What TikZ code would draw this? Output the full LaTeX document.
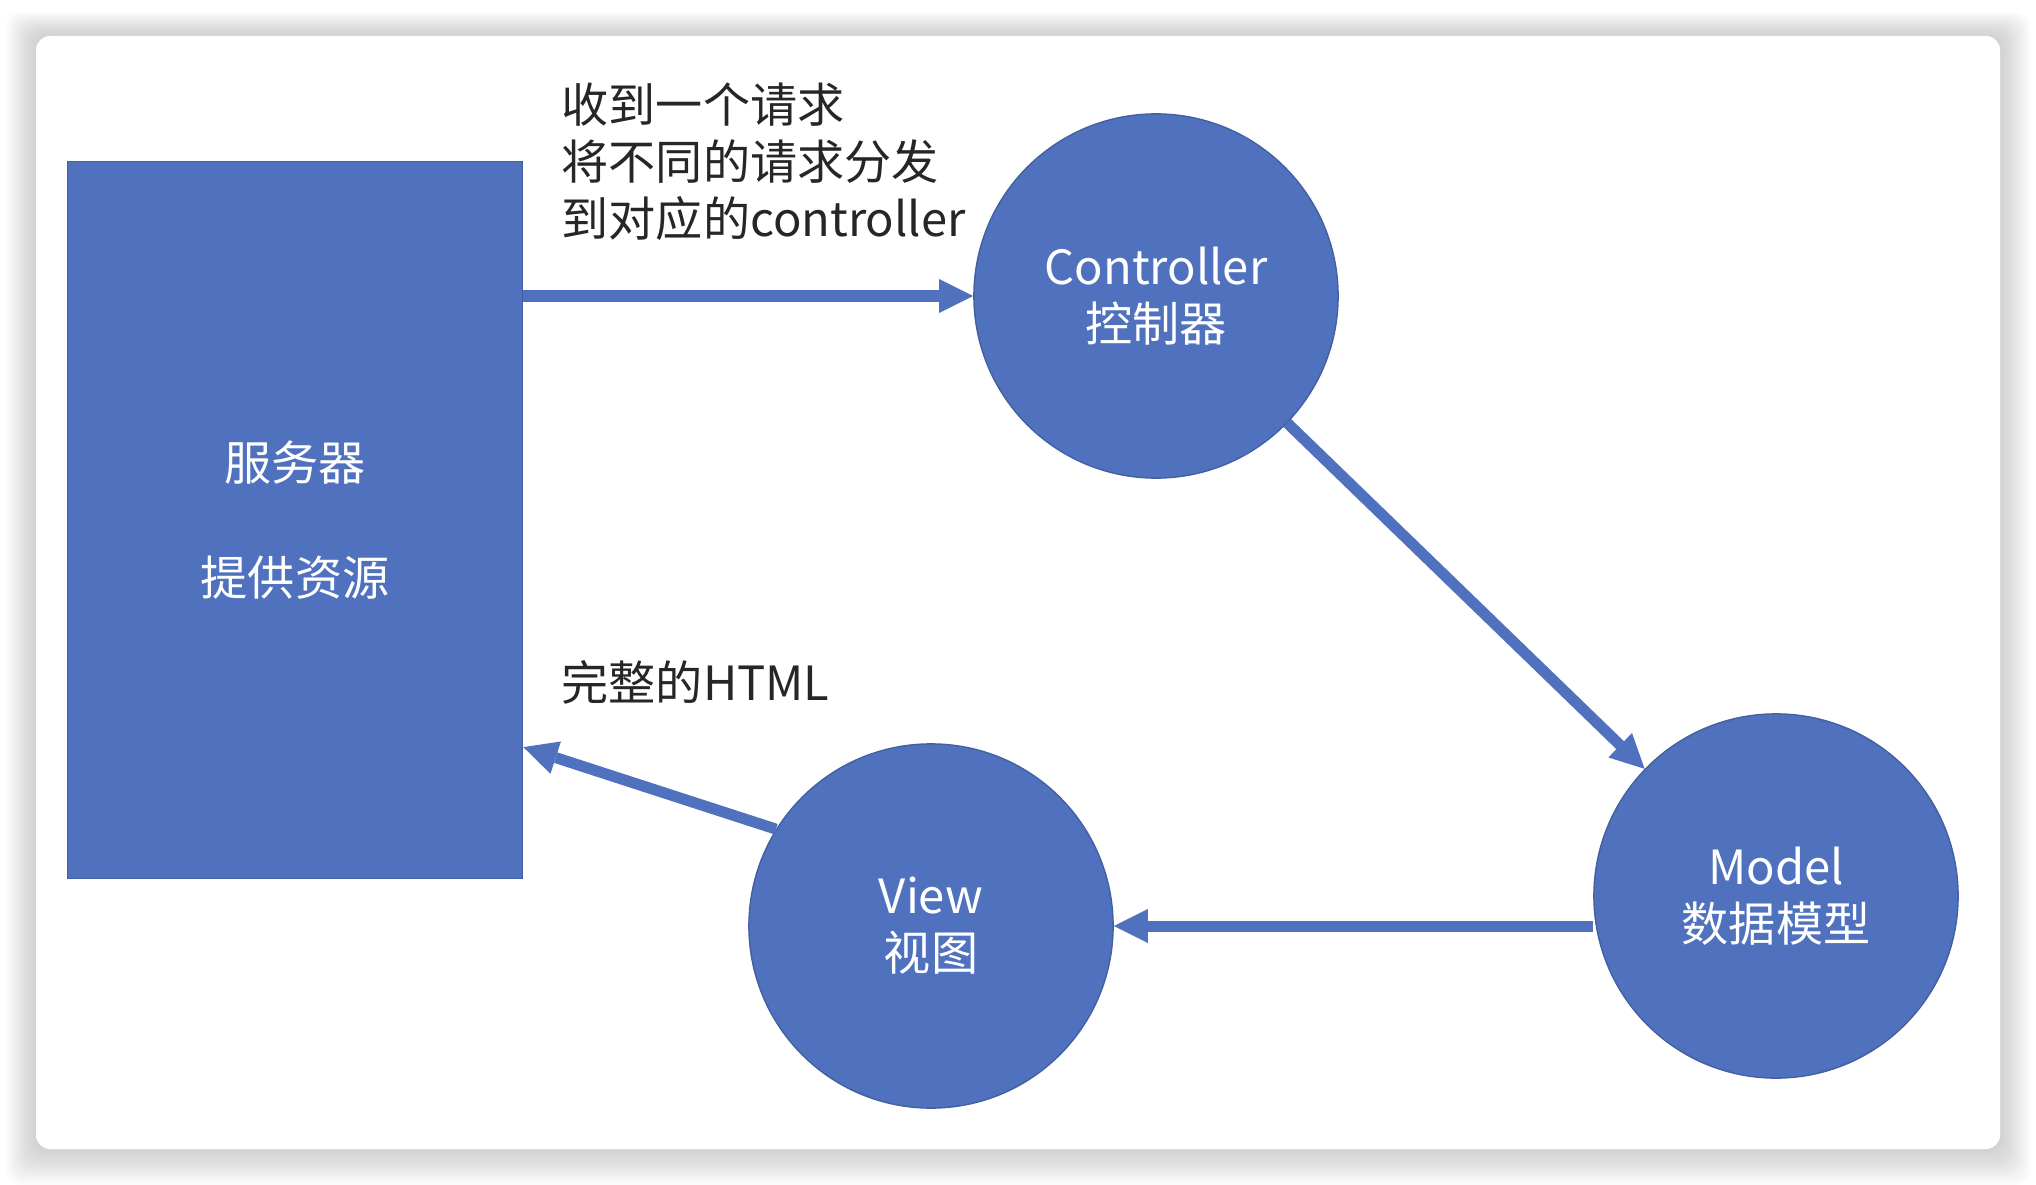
\documentclass[tikz,border=0pt]{standalone}
\usepackage{fontspec}
\setmainfont{Noto Sans CJK SC}
\usetikzlibrary{arrows.meta}
\definecolor{mvcblue}{RGB}{79,113,190}
\newcommand\mvcfont{\fontsize{13.4}{16.2}\selectfont}
\begin{document}
\begin{tikzpicture}[x=0.01cm,y=-0.01cm,>={Triangle[length=0.34cm,width=0.34cm,line width=0pt]},
    conn/.style={->,mvcblue,line width=0.11cm},
    ball/.style={circle,fill=mvcblue,draw=mvcblue!85!black,line width=0.4pt,minimum size=3.64cm,inner sep=0pt,text=white,align=center,font=\mvcfont},
    lbl/.style={inner sep=0pt,anchor=west,align=left,text=black!85,font=\mvcfont}]
    \useasboundingbox(0,0)rectangle(2036,1185);
    % window and its shadow
    \foreach \i in {1,...,12}
        \fill[black,opacity=0.015,rounded corners=4pt](36-2.5*\i,36-2*\i)rectangle(2000+2.5*\i,1149+3*\i);
    \fill[white,rounded corners=4pt](36,36)rectangle(2000,1149);
    % boxes
    \node[rectangle,fill=mvcblue,draw=mvcblue!85!black,line width=0.4pt,minimum width=4.55cm,minimum height=7.16cm,
        inner sep=0pt,text=white,align=center,font=\mvcfont](srv)at(295,520){服务器\\[0.58cm]提供资源};
    \node[ball](ctrl)at(1156,296){Controller\\控制器};
    \node[ball](model)at(1776,896){Model\\数据模型};
    \node[ball](view)at(931,926){View\\视图};
    % arrows
    \draw[conn](srv.east|-ctrl.west)--(ctrl);
    \draw[conn](ctrl)--(model);
    \draw[conn](model.west|-view.east)--(view);
    \draw[conn](view.148)--([yshift=-2.27cm]srv.east);
    \node[lbl](req)at(561,162){收到一个请求\\将不同的请求分发\\到对应的controller};
    \node[lbl](html)at(561,682){完整的HTML};
\end{tikzpicture}
\end{document}
